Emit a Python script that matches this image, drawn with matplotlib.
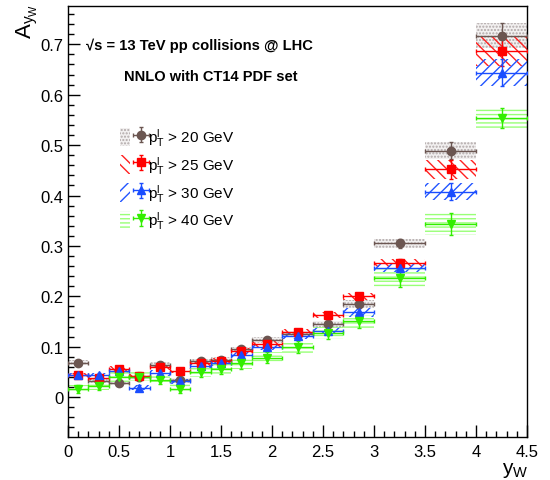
import matplotlib
matplotlib.use("Agg")
import matplotlib.pyplot as plt
from matplotlib.patches import Rectangle
from matplotlib.legend_handler import HandlerTuple
import numpy as np

plt.rcParams['font.family'] = ['Liberation Sans', 'DejaVu Sans']
plt.rcParams['mathtext.fontset'] = 'custom'
plt.rcParams['mathtext.rm'] = 'Liberation Sans'
plt.rcParams['mathtext.it'] = 'Liberation Sans:italic'
plt.rcParams['hatch.linewidth'] = 1.0

# ---- data ----
bin_edges = [0.0, 0.2, 0.4, 0.6, 0.8, 1.0, 1.2, 1.4, 1.6, 1.8, 2.1, 2.4, 2.7, 3.0, 3.5, 4.0, 4.5]

a_pt20 = [0.068, 0.033, 0.029, 0.040, 0.064, 0.034, 0.071, 0.074, 0.095, 0.114, 0.126, 0.145, 0.184, 0.305, 0.489, 0.717]
e_pt20 = [0.005, 0.004, 0.004, 0.004, 0.005, 0.005, 0.005, 0.005, 0.005, 0.006, 0.006, 0.007, 0.008, 0.009, 0.017, 0.025]

a_pt25 = [0.044, 0.039, 0.056, 0.042, 0.059, 0.052, 0.067, 0.072, 0.092, 0.105, 0.130, 0.163, 0.200, 0.266, 0.452, 0.686]
e_pt25 = [0.004, 0.004, 0.005, 0.004, 0.005, 0.005, 0.005, 0.005, 0.005, 0.006, 0.006, 0.006, 0.007, 0.008, 0.019, 0.030]

a_pt30 = [0.044, 0.044, 0.052, 0.019, 0.048, 0.032, 0.062, 0.067, 0.083, 0.100, 0.121, 0.132, 0.168, 0.256, 0.408, 0.644]
e_pt30 = [0.004, 0.004, 0.005, 0.005, 0.005, 0.005, 0.005, 0.005, 0.006, 0.006, 0.006, 0.007, 0.008, 0.008, 0.017, 0.027]

a_pt40 = [0.017, 0.022, 0.040, 0.041, 0.035, 0.017, 0.050, 0.056, 0.067, 0.078, 0.099, 0.128, 0.151, 0.236, 0.344, 0.554]
e_pt40 = [0.008, 0.008, 0.009, 0.009, 0.009, 0.009, 0.010, 0.010, 0.011, 0.011, 0.012, 0.012, 0.013, 0.018, 0.022, 0.020]

labels = [r'$\mathregular{p_{T}^{l}}$ > 20 GeV', r'$\mathregular{p_{T}^{l}}$ > 25 GeV',
          r'$\mathregular{p_{T}^{l}}$ > 30 GeV', r'$\mathregular{p_{T}^{l}}$ > 40 GeV']

# ---- figure ----
fig = plt.figure(figsize=(5.5, 4.81), dpi=100)
ax = fig.add_axes([68/550, 1-438/481, (527-68)/550, (438-7)/481])

edges = np.array(bin_edges)
xc = 0.5*(edges[:-1]+edges[1:])
xw = edges[1:]-edges[:-1]

styles = [
    dict(band_fc='#f2f0f0', band_ec='#b0a8a8', hatch='.....', col='#6b5651', mk='o'),
    dict(band_fc='none', band_ec='#ff2020', hatch='\\\\\\', col='#ff0000', mk='s'),
    dict(band_fc='none', band_ec='#2255ff', hatch='///', col='#1a4dff', mk='^'),
    dict(band_fc='none', band_ec='#99ff77', hatch='----', col='#33ee00', mk='v'),
]
series = [(a_pt20, e_pt20), (a_pt25, e_pt25), (a_pt30, e_pt30), (a_pt40, e_pt40)]

handles = []
for (vals, errs), st in zip(series, styles):
    v = np.array(vals); e = np.array(errs)
    ax.bar(xc, 2*e, bottom=v-e, width=xw, align='center',
           facecolor=st['band_fc'], edgecolor=st['band_ec'], hatch=st['hatch'], linewidth=0, zorder=2)
    eb = ax.errorbar(xc, v, xerr=xw/2, yerr=e, fmt=st['mk'], color=st['col'], ms=6,
                     elinewidth=1.0, capsize=1.5, capthick=1, zorder=3)
    patch = Rectangle((0, 0), 1, 1, facecolor=st['band_fc'], edgecolor=st['band_ec'],
                      hatch=st['hatch'], linewidth=0)
    handles.append((patch, eb))

ax.set_xlim(0, 4.5)
ax.set_ylim(-0.079, 0.776)
ax.set_xticks(np.arange(0, 4.51, 0.5))
ax.set_xticks(np.arange(0, 4.51, 0.1), minor=True)
ax.set_yticks(np.arange(0, 0.71, 0.1))
ax.set_yticks(np.arange(-0.06, 0.77, 0.02), minor=True)
ax.set_xticklabels(['0', '0.5', '1', '1.5', '2', '2.5', '3', '3.5', '4', '4.5'])
ax.set_yticklabels(['0', '0.1', '0.2', '0.3', '0.4', '0.5', '0.6', '0.7'])
ax.tick_params(axis='both', which='both', direction='in', top=False, right=False, labelsize=12)
ax.tick_params(axis='both', which='major', length=8.5, width=1)
ax.tick_params(axis='both', which='minor', length=4.2, width=1)
ax.tick_params(axis='x', pad=5)
for s in ax.spines.values():
    s.set_linewidth(1.0)

ax.text(0.04, 0.91, '\u221as = 13 TeV pp collisions @ LHC', transform=ax.transAxes,
        fontsize=10.6, fontweight='bold', ha='left', va='center')
ax.text(0.122, 0.838, 'NNLO with CT14 PDF set', transform=ax.transAxes,
        fontsize=10.5, fontweight='bold', ha='left', va='center')

fig.text(27/550, 1-4/481, r'$\mathregular{A_{y_{W}}}$', rotation=90, fontsize=16, ha='center', va='top')
fig.text(528/550, 0.5/481, r'$\mathregular{y_{W}}$', fontsize=15, ha='right', va='bottom')

leg = ax.legend(handles, labels, handler_map={tuple: HandlerTuple(ndivide=None)},
                loc='upper left', bbox_to_anchor=(0.1, 0.735), frameon=False,
                fontsize=11, handlelength=1.7, handleheight=1.5, handletextpad=0.15,
                labelspacing=0.38, borderaxespad=0)

fig.savefig('out.png', dpi=100)
